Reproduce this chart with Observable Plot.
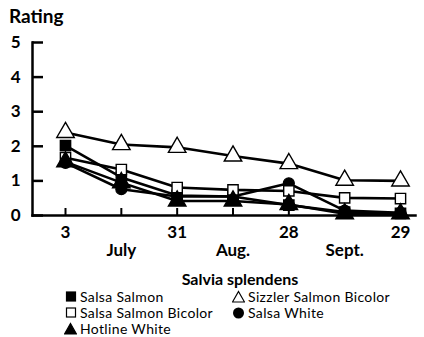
<!DOCTYPE html>
<html>
<head>
<meta charset="utf-8">
<script src="https://cdn.jsdelivr.net/npm/d3@7"></script>
<script src="https://cdn.jsdelivr.net/npm/@observablehq/plot@0.6"></script>
<style>
  body { margin: 0; background: #fff; font-family: Lato, "Open Sans", sans-serif; color: #000; }
  #wrap { position: relative; width: 424px; height: 337px; overflow: hidden; }
  #rating { position: absolute; left: 9px; top: 5px; font-weight: bold; font-size: 19px; line-height: 22px; }
  #chart { position: absolute; left: 0; top: 0; }
  #ltitle { position: absolute; left: 150px; width: 180px; text-align: center; top: 270px; font-weight: bold; font-size: 16px; line-height: 18px; }
  .item { position: absolute; font-size: 14px; letter-spacing: 0.35px; line-height: 14px; height: 14px; display: flex; align-items: center; white-space: nowrap; }
  .item svg { margin-right: 3px; }
</style>
</head>
<body>
<div id="wrap">
  <div id="chart"></div>
  <div id="rating">Rating</div>
  <div id="ltitle">Salvia splendens</div>
  <div id="legend"></div>
</div>
<script>
// time points (index), labels
const dayLabels = ["3", "", "31", "", "28", "", "29"];
const monthLabels = ["", "July", "", "Aug.", "", "Sept.", ""];
const yTicks = [0, 1, 2, 3, 4, 5];

// series values (rating)
const salsaSalmon        = [2.02, 1.10, 0.58, 0.55, 0.30, 0.10, 0.06];
const salsaSalmonBicolor = [1.67, 1.33, 0.81, 0.74, 0.71, 0.51, 0.49];
const hotlineWhite       = [1.55, 0.95, 0.42, 0.42, 0.32, 0.05, 0.05];
const sizzlerSalmonBicolor = [2.40, 2.05, 1.97, 1.72, 1.50, 1.02, 1.00];
const salsaWhite         = [1.52, 0.76, 0.55, 0.55, 0.93, 0.14, 0.08];

const seriesNames = ["Salsa Salmon", "Salsa Salmon Bicolor", "Hotline White", "Sizzler Salmon Bicolor", "Salsa White"];
const seriesValues = [salsaSalmon, salsaSalmonBicolor, hotlineWhite, sizzlerSalmonBicolor, salsaWhite];
const seriesSymbol = ["square", "square", "triangle", "triangle", "circle"];
const seriesFill = ["black", "white", "black", "white", "black"];

const data = [];
seriesNames.forEach((name, s) => {
  seriesValues[s].forEach((v, i) => data.push({series: name, s, i, v, symbol: seriesSymbol[s], fill: seriesFill[s]}));
});
const idx = dayLabels.map((_, i) => i);

const fontFam = "Lato, 'Open Sans', sans-serif";
const plot = Plot.plot({
  width: 424,
  height: 262,
  marginTop: 42,
  marginBottom: 47,
  marginLeft: 32,
  marginRight: 9,
  style: {fontFamily: fontFam, fontSize: "15px", fontWeight: "bold", color: "black", background: "white"},
  x: {domain: [0, 6], range: [65, 400]},
  y: {domain: [0, 5]},
  symbol: {type: "identity"},
  marks: [
    Plot.frame({anchor: "left", strokeWidth: 2.5}),
    Plot.frame({anchor: "bottom", strokeWidth: 2.5}),
    Plot.axisY(yTicks, {tickSize: -11, strokeWidth: 2.5, tickPadding: 23, label: null, fontSize: 17, fontWeight: "bold", tickFormat: d => d}),
    Plot.axisX(idx, {tickSize: -7, strokeWidth: 2, text: null, label: null}),
    Plot.axisX(idx.filter(i => dayLabels[i]), {tickSize: 0, tickPadding: 10, label: null, fontSize: 17, fontWeight: "bold", tickFormat: i => dayLabels[i]}),
    Plot.axisX(idx.filter(i => monthLabels[i]), {tickSize: 0, tickPadding: 28, label: null, fontSize: 17, fontWeight: "bold", tickFormat: i => monthLabels[i]}),
    Plot.line(data, {x: "i", y: "v", z: "series", stroke: "black", strokeWidth: 2.6, curve: "linear"}),
    Plot.dot(data.filter(d => d.symbol === "circle"), {x: "i", y: "v", symbol: "symbol", fill: "fill", stroke: "black", strokeWidth: 1.2, r: 5.5}),
    Plot.dot(data.filter(d => d.symbol === "square"), {x: "i", y: "v", symbol: "symbol", fill: "fill", stroke: "black", strokeWidth: 1.4, r: 5.8}),
    Plot.dot(data.filter(d => d.symbol === "triangle"), {x: "i", y: "v", symbol: "symbol", fill: "fill", stroke: "black", strokeWidth: 1.4, r: 6.5})
  ]
});
document.getElementById("chart").appendChild(plot);

// legend (HTML)
const legendPos = [
  {left: 65, top: 290}, {left: 65, top: 306}, {left: 64, top: 322},
  {left: 232, top: 290}, {left: 232, top: 306}
];
const legend = document.getElementById("legend");
seriesNames.forEach((name, s) => {
  const div = document.createElement("div");
  div.className = "item";
  div.style.left = legendPos[s].left + "px";
  div.style.top = legendPos[s].top + "px";
  const sym = seriesSymbol[s], fill = seriesFill[s];
  let shape;
  if (sym === "square") shape = `<rect x="1.5" y="2" width="9" height="9" fill="${fill}" stroke="black" stroke-width="1.2"/>`;
  else if (sym === "circle") shape = `<circle cx="6.5" cy="7" r="5.5" fill="black"/>`;
  else shape = `<path d="M6.5,1.5 L12.5,12 L0.5,12 Z" fill="${fill}" stroke="black" stroke-width="1.2"/>`;
  const w = sym === "square" ? 12 : 13;
  div.innerHTML = `<svg width="${w}" height="14">${shape}</svg><span>${name}</span>`;
  legend.appendChild(div);
});
</script>
</body>
</html>
